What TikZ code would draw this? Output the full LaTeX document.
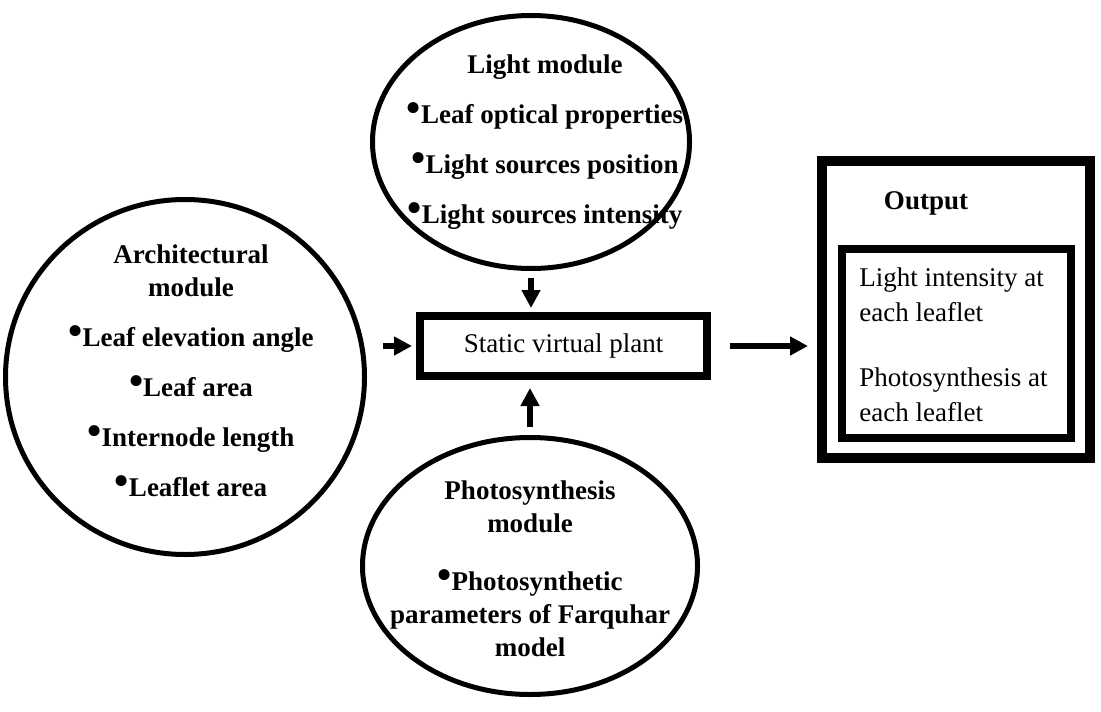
\documentclass[tikz,border=0pt]{standalone}
\usepackage{fontspec}
\setmainfont{Liberation Serif}
\usetikzlibrary{shapes.geometric,arrows.meta}
\newcommand{\bul}{\raisebox{0.05em}{\scalebox{1.5}{\textbullet}}}

\begin{document}
\begin{tikzpicture}
[x=0.5pt,y=-0.5pt,
 every node/.style={font=\fontsize{13.5}{16.5}\selectfont,inner sep=0pt},
 module/.style={ellipse,draw,line width=2.5pt},
 modtext/.style={font=\fontsize{13.5}{16.5}\selectfont\bfseries,align=center,anchor=north},
 box/.style={rectangle,draw,line width=4pt},
 arr/.style={line width=2.75pt,-{Triangle[length=9pt,width=9pt]}}]
\useasboundingbox (0,0) rectangle (1101,711);

% the three modules
\node[module,minimum width=158.5pt,minimum height=126.5pt] (light) at (531,142) {};
\node[module,minimum width=179.5pt,minimum height=177.5pt] (arch) at (185,377) {};
\node[module,minimum width=167.5pt,minimum height=128.5pt] (photo) at (530,566) {};

\node[modtext] (lighttxt) at (545,54) {Light module\\[8.5pt]
  \bul Leaf optical properties\\[8.5pt]
  \bul Light sources position\\[8.5pt]
  \bul Light sources intensity};
\node[modtext] (archtxt) at (191,244) {Architectural\\ module\\[8.5pt]
  \bul Leaf elevation angle\\[8.5pt]
  \bul Leaf area\\[8.5pt]
  \bul Internode length\\[8.5pt]
  \bul Leaflet area};
\node[modtext] (phototxt) at (530,480) {Photosynthesis\\ module\\[12.5pt]
  \bul Photosynthetic\\ parameters of Farquhar\\ model};

% plant and output
\node[box,minimum width=143.5pt,minimum height=30pt] (static) at (563.5,346) {Static virtual plant};
\node[box,line width=5pt,minimum width=134pt,minimum height=148.5pt] (outbox) at (956,309.5) {};
\node[font=\fontsize{13.5}{16.5}\selectfont\bfseries] (outtitle) at (926,203) {Output};
\node[box,minimum width=114.5pt,minimum height=94.5pt] (inbox) at (956.5,343.5) {};
\node[align=left,anchor=north west,font=\fontsize{13.5}{17.5}\selectfont] (outtxt) at (859,267)
  {Light intensity at\\ each leaflet\\[15pt] Photosynthesis at\\ each leaflet};

\draw[arr,shorten <=8pt,shorten >=2pt] (static.west -| arch.east) -- (static.west);
\draw[arr,shorten <=3.5pt,shorten >=2pt] (light.south) -- (light.south |- static.north);
\draw[arr,shorten <=4pt,shorten >=4pt] (photo.north) -- (photo.north |- static.south);
\draw[arr,shorten <=9.5pt,shorten >=4.5pt] (static.east) -- (static.east -| outbox.west);

\end{tikzpicture}
\end{document}
